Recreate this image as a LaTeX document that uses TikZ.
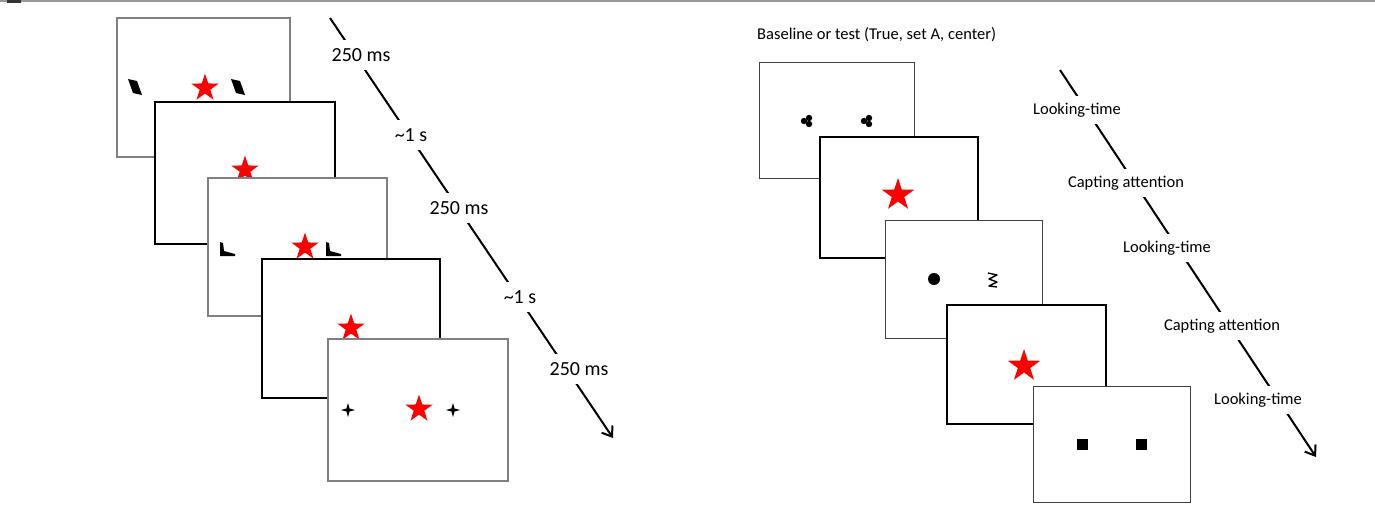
\documentclass[tikz,border=0pt]{standalone}
\usepackage{fontspec}
\setmainfont{Carlito}
\usetikzlibrary{shapes.geometric,arrows.meta}
\begin{document}
\begin{tikzpicture}[x=1pt,y=-1pt,
  grayframe/.style={draw=black!50, line width=1.8pt, fill=white, inner sep=0pt},
  blackframe/.style={draw=black, line width=2.4pt, fill=white, inner sep=0pt},
  thinframe/.style={draw=black!75, line width=1pt, fill=white, inner sep=0pt},
  thickframe/.style={draw=black, line width=2pt, fill=white, inner sep=0pt},
  redstar/.style={star, star points=5, star point ratio=2.6, fill=red, draw=none, inner sep=0pt, minimum size=29pt},
  bigstar/.style={redstar, minimum size=34pt},
  cross/.style={star, star points=4, star point ratio=3.2, fill=black, inner sep=0pt, minimum size=14pt},
  timeline/.style={line width=2pt, -{Straight Barb[length=9pt,width=13pt,line width=2pt]}},
  biglabel/.style={fill=white, inner xsep=3pt, inner ysep=8pt, font=\fontsize{20}{22}\selectfont},
  smalllabel/.style={fill=white, inner xsep=3pt, inner ysep=7pt, font=\fontsize{16.5}{18}\selectfont},
]
\useasboundingbox (0,0) rectangle (1375,509);
\fill[white] (0,0) rectangle (1375,509);
% top rule
\draw[black!40, line width=1.5pt] (0,1) -- (1375,1);
\fill[black!80] (7,0) rectangle (21,3);

% ---------------- left panel ----------------
\node[grayframe, minimum width=173pt, minimum height=139pt] (F1) at (203.5,87.5) {};
\node[redstar] (S1) at (205,88) {};
\fill[shift={(135,87)}] (-7,-8) -- (2,-6) -- (7,8) -- (-2,6) -- cycle;
\fill[shift={(238,87)}] (-7,-8) -- (2,-6) -- (7,8) -- (-2,6) -- cycle;

\node[blackframe, minimum width=180pt, minimum height=142pt] (F2) at (245,173) {};
\node[redstar] (S2) at (245,170) {};

\node[grayframe, minimum width=179pt, minimum height=138pt] (F3) at (297.5,247) {};
\node[redstar] (S3) at (305,247) {};
\fill[shift={(227,249)}] (-7,-7) -- (-4,-6) -- (-3,2) -- (8,5) -- (8,7) -- (-7,7) -- cycle;
\fill[shift={(333,249)}] (-7,-7) -- (-4,-6) -- (-3,2) -- (8,5) -- (8,7) -- (-7,7) -- cycle;

\node[blackframe, minimum width=178pt, minimum height=139pt] (F4) at (351,328.5) {};
\node[redstar] (S4) at (351,328) {};

\node[grayframe, minimum width=180pt, minimum height=142pt] (F5) at (418,410) {};
\node[redstar] (S5) at (419,409) {};
\node[cross] (C1) at (348,410) {};
\node[cross] (C2) at (453,410) {};

\coordinate (LT0) at (330,18);
\coordinate (LT1) at (613,438);
\draw[timeline] (LT0) -- (LT1);
\node[biglabel] (L1) at (361,55) {250 ms};
\node[biglabel] (L2) at (411,135) {\textasciitilde1 s};
\node[biglabel] (L3) at (459,208) {250 ms};
\node[biglabel] (L4) at (520,297) {\textasciitilde1 s};
\node[biglabel] (L5) at (579,369) {250 ms};

% ---------------- right panel ----------------
\node[anchor=west, inner sep=0pt, font=\fontsize{16.5}{18}\selectfont] (T) at (757,35) {Baseline or test (True, set A, center)};

\node[thinframe, minimum width=155pt, minimum height=116pt] (R1) at (836.5,120) {};
\foreach \cx in {807,867}{
  \fill (\cx-3,121) circle (3.2);
  \fill (\cx+2,118) circle (3.2);
  \fill (\cx+2,124) circle (3.2);
}

\node[thickframe, minimum width=158pt, minimum height=121pt] (R2) at (899,197.5) {};
\node[bigstar] (RS2) at (898,195) {};

\node[thinframe, minimum width=157pt, minimum height=118pt] (R3) at (963.5,279) {};
\fill (934,279) circle (6);
\draw[line width=1.4pt, line join=round] (988,273) -- (997,275) -- (989,279) -- (997,282) -- (989,286) -- (997,287);

\node[thickframe, minimum width=159pt, minimum height=119pt] (R4) at (1026.5,364.5) {};
\node[bigstar] (RS4) at (1024,366) {};

\node[thinframe, minimum width=157pt, minimum height=116pt] (R5) at (1111.5,444) {};
\fill (1077,439) rectangle (1088,450);
\fill (1136,439) rectangle (1147,450);

\coordinate (RT0) at (1060,70);
\coordinate (RT1) at (1316,457);
\draw[timeline] (RT0) -- (RT1);
\node[smalllabel] (M1) at (1077,110) {Looking-time};
\node[smalllabel] (M2) at (1126,183) {Capting attention};
\node[smalllabel] (M3) at (1167,248) {Looking-time};
\node[smalllabel] (M4) at (1222,326) {Capting attention};
\node[smalllabel] (M5) at (1258,400) {Looking-time};
\end{tikzpicture}
\end{document}
